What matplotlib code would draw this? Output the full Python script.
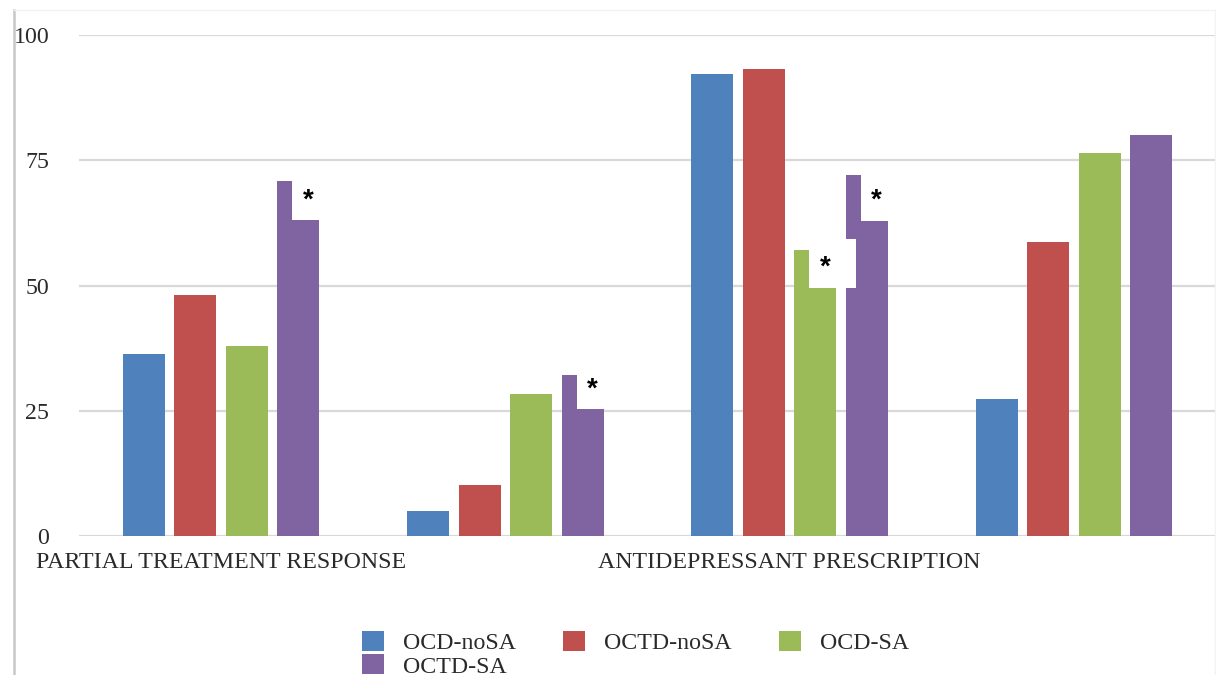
import matplotlib
matplotlib.use("Agg")
import matplotlib.pyplot as plt
from matplotlib.patches import Rectangle
import numpy as np

# ---------------- data ----------------
groups = ["PARTIAL TREATMENT RESPONSE", "", "ANTIDEPRESSANT PRESCRIPTION", ""]
series = ["OCD-noSA", "OCTD-noSA", "OCD-SA", "OCTD-SA"]
ocd_nosa = [36.3, 5.0, 92.2, 27.4]
octd_nosa = [48.1, 10.2, 93.2, 58.7]
ocd_sa = [37.9, 28.3, 57.1, 76.4]
octd_sa = [70.9, 32.1, 72.1, 80.1]
colors = ["#4f81bd", "#c0504d", "#9bbb59", "#8064a2"]
y_ticks = [0, 25, 50, 75, 100]

# asterisk callouts: (group index, series index, lower edge of the white label box)
star_group = [0, 1, 2, 2]
star_series = [3, 3, 2, 3]
star_box_bottom = [63.0, 25.3, 49.5, 62.9]

values = [ocd_nosa, octd_nosa, ocd_sa, octd_sa]

# ---------------- figure ----------------
W, H = 1216, 675
fig = plt.figure(figsize=(W / 100, H / 100), dpi=100)
ax = fig.add_axes([79 / W, (H - 536) / H, (1216 - 79) / W, (536 - 35) / H])

serif = "Liberation Serif"
txt_color = "#2a2a2a"
fs = 17.2
em = fs * 100 / 72  # font size in pixels

x = np.arange(len(groups))
pitch = 0.181
width = 0.148
offsets = (np.arange(len(series)) - 1.5) * pitch

bars = []
for i, (name, vals, c) in enumerate(zip(series, values, colors)):
    b = ax.bar(x + offsets[i], vals, width, color=c, label=name, zorder=2)
    bars.append(b)

# white label boxes with asterisks
box_w = 0.165
box_h = 9.8
for g, s, yb in zip(star_group, star_series, star_box_bottom):
    bar_left = g + offsets[s] - width / 2
    bl = bar_left + 0.053
    ax.add_patch(Rectangle((bl, yb), box_w, box_h, facecolor="white",
                           edgecolor="none", zorder=3))
    ax.text(bl + 0.056, yb + box_h / 2 - 0.9, "*", ha="center", va="center",
            fontsize=20, fontweight="bold", family="Liberation Sans",
            color="black", zorder=4)

ax.set_xlim(-0.5, 3.5)
ax.set_ylim(0, 100)
ax.set_yticks(y_ticks)
ax.set_yticklabels([str(t) for t in y_ticks], family=serif, fontsize=fs, color=txt_color)
ax.set_xticks([0, 2])
ax.set_xticklabels([groups[0], groups[2]], family=serif, fontsize=fs, color=txt_color)
ax.tick_params(axis="both", length=0)
ax.tick_params(axis="y", pad=21.5)
ax.tick_params(axis="x", pad=11.5)
ax.grid(axis="y", color="#d9d9d9", linewidth=1.6, zorder=0)
ax.set_axisbelow(True)
for sp in ax.spines.values():
    sp.set_visible(False)

# chart-area border
fig.add_artist(plt.Line2D([14 / W, 14 / W], [0, 1 - 10 / H], transform=fig.transFigure,
                          color="#c8c8c8", linewidth=1.8))
fig.add_artist(plt.Line2D([14 / W, 1215 / W], [1 - 10 / H, 1 - 10 / H], transform=fig.transFigure,
                          color="#f2f2f2", linewidth=1.0))
fig.add_artist(plt.Line2D([1215 / W, 1215 / W], [0, 1 - 10 / H], transform=fig.transFigure,
                          color="#f2f2f2", linewidth=1.0))

# legend laid out row by row (matplotlib fills columns first)
order = [0, 3, 1, 2]
leg = fig.legend(handles=[bars[i] for i in order], labels=[series[i] for i in order],
                 ncol=3, loc="upper left",
                 bbox_to_anchor=(362 / W, 1 - 631 / H), frameon=False,
                 prop={"family": serif, "size": fs}, handlelength=22 / em,
                 handleheight=22 / em, handletextpad=19 / em, columnspacing=47 / em,
                 labelspacing=0.0, borderpad=0, borderaxespad=0)
for t in leg.get_texts():
    t.set_color(txt_color)

fig.savefig("out.png", dpi=100)
